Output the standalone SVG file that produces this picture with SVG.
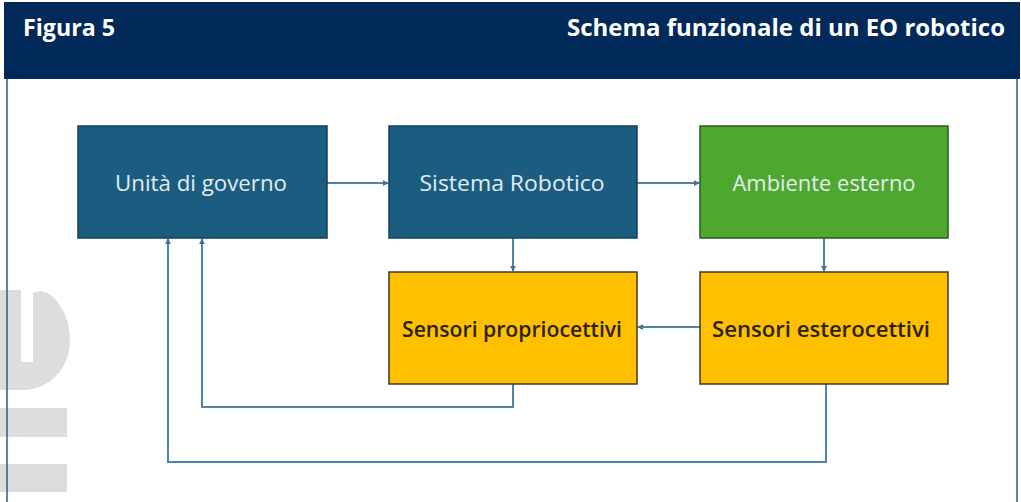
<svg xmlns="http://www.w3.org/2000/svg" width="1021" height="502" viewBox="0 0 1021 502">
<defs>
<style>
.hdr{font-family:"Open Sans","Liberation Sans",sans-serif;font-weight:700;font-size:22.5px;fill:#ffffff}
.lbl{font-family:"Open Sans","Liberation Sans",sans-serif;font-size:21px}
.light{fill:#e3ecf0}
.dark{fill:#2a230c;font-weight:600}
.blue{fill:#1a5d80;stroke:#123f58;stroke-width:1.5}
.green{fill:#4ea72e;stroke:#2c5a1c;stroke-width:1.5}
.yellow{fill:#ffc000;stroke:#3d3820;stroke-width:1.5}
.conn{fill:none;stroke:#4f85ab;stroke-width:2}
.wm{fill:#dcdddd}
</style>
<marker id="arr" viewBox="0 0 8 8" refX="7" refY="4" markerWidth="6" markerHeight="6" orient="auto" markerUnits="userSpaceOnUse">
<path d="M0,0 L8,4 L0,8 z" fill="#3f7199"/>
</marker>
</defs>
<rect width="1021" height="502" fill="#ffffff"/>
<g id="watermark">
<path class="wm" d="M0,290 L21,290 L21,362 L33,362 L33,293 C40,290 46,291 52,296 C63,306 70,322 70,340 C70,368 50,390 22,390 L0,390 Z"/>
<rect class="wm" x="0" y="408" width="67" height="29"/>
<rect class="wm" x="0" y="464" width="67" height="28"/>
</g>
<g id="frame">
<line x1="7" y1="78" x2="7" y2="502" stroke="#2d5a88" stroke-width="1.5"/>
<line x1="1017" y1="78" x2="1017" y2="502" stroke="#2d5a88" stroke-width="1.5"/>
<rect x="4" y="2" width="1016" height="77" fill="#012a5a"/>
<text class="hdr" x="23" y="36" textLength="92" lengthAdjust="spacingAndGlyphs">Figura 5</text>
<text class="hdr" x="567" y="36" textLength="438" lengthAdjust="spacingAndGlyphs">Schema funzionale di un EO robotico</text>
</g>
<g id="connectors">
<path class="conn" d="M327,183 H388" marker-end="url(#arr)"/>
<path class="conn" d="M637,183 H699" marker-end="url(#arr)"/>
<path class="conn" d="M513,238 V271" marker-end="url(#arr)"/>
<path class="conn" d="M824,238 V271" marker-end="url(#arr)"/>
<path class="conn" d="M700,327 H638" marker-end="url(#arr)"/>
<path class="conn" d="M513,384 V407 H202 V239" marker-end="url(#arr)"/>
<path class="conn" d="M826,384 V462 H168 V239" marker-end="url(#arr)"/>
</g>
<g id="node-unita">
<rect class="blue" x="78" y="126" width="249" height="112"/>
<text class="lbl light" x="201" y="191" text-anchor="middle" textLength="172" lengthAdjust="spacingAndGlyphs">Unità di governo</text>
</g>
<g id="node-sistema">
<rect class="blue" x="389" y="126" width="248" height="112"/>
<text class="lbl light" x="512" y="191" text-anchor="middle" textLength="185" lengthAdjust="spacingAndGlyphs">Sistema Robotico</text>
</g>
<g id="node-ambiente">
<rect class="green" x="700" y="126" width="248" height="112"/>
<text class="lbl light" x="824" y="191" text-anchor="middle" textLength="183" lengthAdjust="spacingAndGlyphs">Ambiente esterno</text>
</g>
<g id="node-propriocettivi">
<rect class="yellow" x="389" y="272" width="248" height="112"/>
<text class="lbl dark" x="512" y="337" text-anchor="middle" textLength="220" lengthAdjust="spacingAndGlyphs">Sensori propriocettivi</text>
</g>
<g id="node-esterocettivi">
<rect class="yellow" x="700" y="272" width="248" height="112"/>
<text class="lbl dark" x="821" y="337" text-anchor="middle" textLength="218" lengthAdjust="spacingAndGlyphs">Sensori esterocettivi</text>
</g>
</svg>
